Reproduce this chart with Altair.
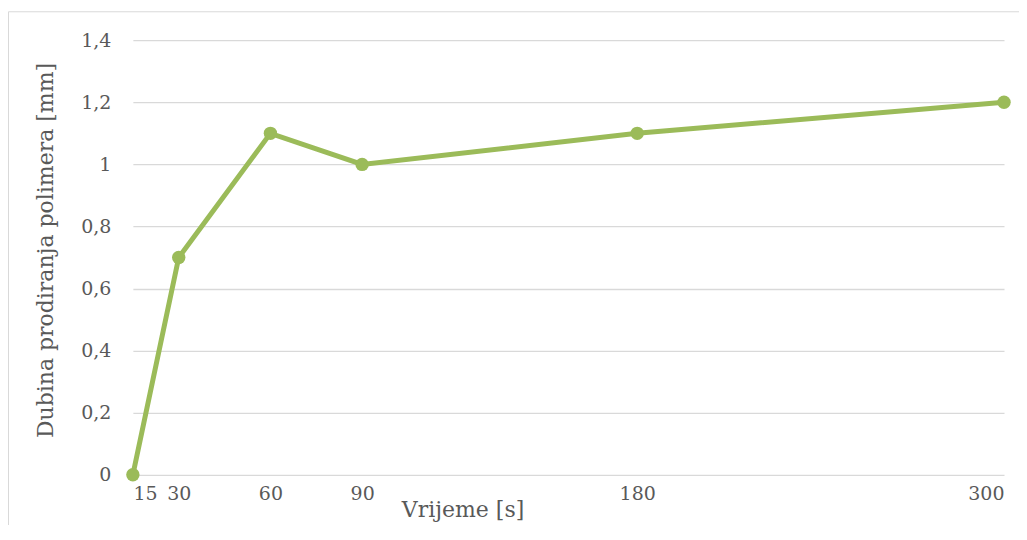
import altair as alt
import pandas as pd

vrijeme = [15, 30, 60, 90, 180, 300]
dubina = [0, 0.7, 1.1, 1.0, 1.1, 1.2]
x_ticks = [15, 30, 60, 90, 180, 300]
y_ticks = [0, 0.2, 0.4, 0.6, 0.8, 1.0, 1.2, 1.4]

df = pd.DataFrame({"Vrijeme": vrijeme, "Dubina": dubina})

GREEN = "#9BBB59"
TEXT = "#595959"
FONT = "DejaVu Serif"

border = alt.Chart(pd.DataFrame({"a": [0]})).mark_rect(
    fill=None, stroke="#D9D9D9", strokeWidth=1
).encode(
    x=alt.value(-124.5), x2=alt.value(900), y=alt.value(-28.5), y2=alt.value(520)
)

base = alt.Chart(df).encode(
    x=alt.X("Vrijeme:Q",
            scale=alt.Scale(domain=[15, 300], nice=False, zero=False),
            axis=alt.Axis(values=x_ticks, title="Vrijeme [s]", grid=False,
                          domain=False, ticks=False, labelPadding=10,
                          labelFontSize=19, labelColor=TEXT, labelFont=FONT,
                          titleFontSize=22, titleColor=TEXT, titleFont=FONT,
                          titleFontWeight="normal", titleX=330, titleY=42,
                          titleBaseline="alphabetic", titleAnchor="middle")),
    y=alt.Y("Dubina:Q",
            scale=alt.Scale(domain=[0, 1.4], nice=False),
            axis=alt.Axis(values=y_ticks, title="Dubina prodiranja polimera [mm]",
                          gridColor="#D9D9D9", gridWidth=1.3, domain=False,
                          ticks=False, labelPadding=22,
                          labelExpr="replace(format(datum.value, '.2~f'), '.', ',')",
                          labelFontSize=19, labelColor=TEXT, labelFont=FONT,
                          titleFontSize=22, titleColor=TEXT, titleFont=FONT,
                          titleFontWeight="normal", titleX=-75, titleY=210)),
)

line = base.mark_line(color=GREEN, strokeWidth=5)
pts = base.mark_point(color=GREEN, filled=True, opacity=1, size=180)

chart = alt.layer(border, line, pts).properties(
    width=872, height=435,
    autosize=alt.AutoSizeParams(type="none"),
    padding={"left": 125, "top": 32, "right": 15, "bottom": 50},
).configure_view(stroke=None)

chart.save("out.html", embed_options={"renderer": "svg", "actions": False})
